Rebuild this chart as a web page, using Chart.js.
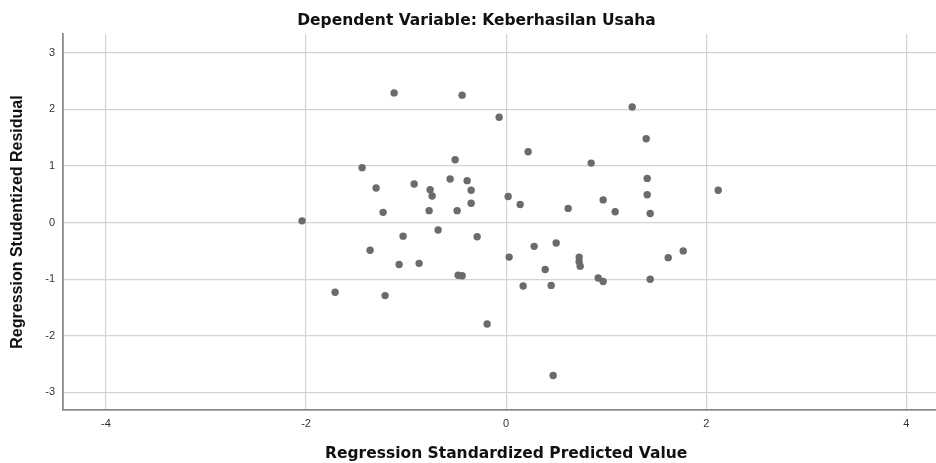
<!DOCTYPE html>
<html>
<head>
<meta charset="utf-8">
<script src="https://cdn.jsdelivr.net/npm/chart.js@4.4.1/dist/chart.umd.min.js"></script>
<style>
  html, body { margin: 0; padding: 0; background: #ffffff; overflow: hidden; }
  #wrap { width: 936px; height: 463px; overflow: hidden; }
  #c { display: block; }
</style>
</head>
<body>
<div id="wrap"><canvas id="c" width="953" height="463"></canvas></div>
<script>
const chartTitle = "Dependent Variable: Keberhasilan Usaha";
const xAxisTitle = "Regression Standardized Predicted Value";
const yAxisTitle = "Regression Studentized Residual";
const xTickValues = [-4, -2, 0, 2, 4];
const yTickValues = [-3, -2, -1, 0, 1, 2, 3];

const predicted = [
  -2.04, -1.71, -1.44, -1.36, -1.30, -1.23, -1.21, -1.12, -1.07, -1.03,
  -0.92, -0.87, -0.77, -0.76, -0.74, -0.68, -0.56, -0.51, -0.49, -0.48,
  -0.44, -0.44, -0.39, -0.35, -0.35, -0.29, -0.19, -0.07, 0.02, 0.03,
  0.14, 0.17, 0.22, 0.28, 0.39, 0.45, 0.47, 0.50, 0.62, 0.73,
  0.73, 0.74, 0.85, 0.92, 0.97, 0.97, 1.09, 1.26, 1.40, 1.41,
  1.41, 1.44, 1.44, 1.62, 1.77, 2.12
];
const residual = [
  0.03, -1.23, 0.97, -0.49, 0.61, 0.18, -1.29, 2.29, -0.74, -0.24,
  0.68, -0.72, 0.21, 0.58, 0.47, -0.13, 0.77, 1.11, 0.21, -0.93,
  -0.94, 2.25, 0.74, 0.57, 0.34, -0.25, -1.79, 1.86, 0.46, -0.61,
  0.32, -1.12, 1.25, -0.42, -0.83, -1.11, -2.70, -0.36, 0.25, -0.61,
  -0.69, -0.77, 1.05, -0.98, 0.40, -1.04, 0.19, 2.04, 1.48, 0.78,
  0.49, 0.16, -1.00, -0.62, -0.50, 0.57
];

const points = predicted.map((x, i) => ({ x: x, y: residual[i] }));

new Chart(document.getElementById('c'), {
  type: 'scatter',
  data: {
    datasets: [{
      data: points,
      backgroundColor: '#6b6b6b',
      borderWidth: 0,
      pointRadius: 3.7,
      pointHoverRadius: 3.7
    }]
  },
  options: {
    responsive: false,
    animation: false,
    events: [],
    layout: { padding: 0 },
    plugins: {
      legend: { display: false },
      tooltip: { enabled: false },
      title: {
        display: true,
        text: chartTitle,
        color: '#111111',
        font: { family: "'DejaVu Sans', sans-serif", size: 15.5, weight: 'bold' },
        padding: { top: 11.5, bottom: 3.9 }
      }
    },
    scales: {
      x: {
        type: 'linear',
        min: -4.43,
        max: 4.43,
        afterFit: (s) => { s.height = 53; },
        afterBuildTicks: (s) => { s.ticks = xTickValues.map(v => ({ value: v })); },
        grid: { color: '#d3d3d3', lineWidth: 1.2, drawTicks: false },
        border: { color: '#8a8a8a', width: 1.8 },
        ticks: {
          color: '#333333',
          font: { family: "'Liberation Sans', Arial, sans-serif", size: 11 },
          padding: 7,
          maxRotation: 0,
          callback: (v) => String(v)
        },
        title: {
          display: true,
          text: xAxisTitle,
          color: '#111111',
          font: { family: "'DejaVu Sans', sans-serif", size: 15.5, weight: 'bold' },
          padding: { top: 0, bottom: 0 }
        }
      },
      y: {
        type: 'linear',
        min: -3.31,
        max: 3.33,
        afterFit: (s) => { s.width = 63; },
        afterBuildTicks: (s) => { s.ticks = yTickValues.map(v => ({ value: v })); },
        grid: { color: '#d3d3d3', lineWidth: 1.2, drawTicks: false },
        border: { color: '#8a8a8a', width: 1.8 },
        ticks: {
          color: '#333333',
          font: { family: "'Liberation Sans', Arial, sans-serif", size: 11 },
          padding: 8,
          callback: (v) => String(v)
        },
        title: {
          display: true,
          text: yAxisTitle,
          color: '#111111',
          font: { family: "'Liberation Sans', Arial, sans-serif", size: 16, weight: 'bold' },
          padding: { top: 8.4, bottom: 0 }
        }
      }
    }
  }
});
</script>
</body>
</html>
